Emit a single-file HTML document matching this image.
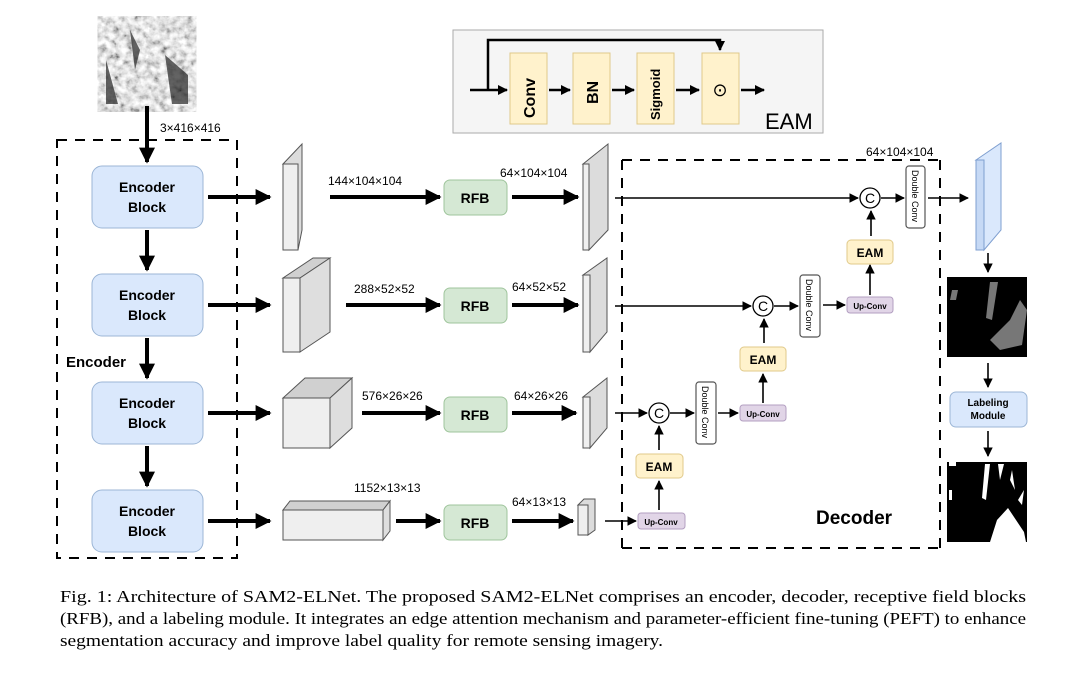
<!DOCTYPE html>
<html><head><meta charset="utf-8"><style>
body{margin:0;background:#fff}
svg{display:block}
text{font-family:"Liberation Sans",sans-serif}
text.serif{font-family:"Liberation Serif",serif}
.b{font-weight:bold}
</style></head><body>
<svg width="1080" height="676" viewBox="0 0 1080 676" xmlns="http://www.w3.org/2000/svg">
<defs>
<marker id="a" viewBox="0 0 10 10" refX="9" refY="5" markerWidth="4" markerHeight="4" orient="auto-start-reverse"><path d="M0,0L10,5L0,10z" fill="#000"/></marker>
<marker id="s" viewBox="0 0 10 10" refX="9" refY="5" markerWidth="6" markerHeight="6" orient="auto"><path d="M0,0L10,5L0,10z" fill="#000"/></marker>
<filter id="n"><feTurbulence type="fractalNoise" baseFrequency="0.15" numOctaves="3" seed="3"/><feColorMatrix type="saturate" values="0"/><feComponentTransfer><feFuncR type="linear" slope="2.2" intercept="-0.55"/><feFuncG type="linear" slope="2.2" intercept="-0.55"/><feFuncB type="linear" slope="2.2" intercept="-0.55"/></feComponentTransfer></filter>
</defs>
<rect width="1080" height="676" fill="#fff"/>

<!-- input image -->
<rect x="106" y="24" width="82" height="80" fill="#888" filter="url(#n)"/>
<path d="M165,55 L188,75 L188,104 L172,104 Z M106,60 L118,104 L106,104Z M130,30 L140,50 L135,70Z" fill="#222" opacity="0.7"/>
<line x1="147" y1="106" x2="147" y2="162" stroke="#000" stroke-width="4" marker-end="url(#a)"/>
<text x="160" y="132" font-size="12">3×416×416</text>

<!-- Encoder dashed box -->
<rect x="57" y="140" width="180" height="418" fill="none" stroke="#000" stroke-width="2" stroke-dasharray="10,8"/>
<text x="66" y="367" font-size="15" class="b">Encoder</text>

<g font-size="14" class="b" text-anchor="middle">
<rect x="92" y="166" width="111" height="62" rx="10" fill="#dae8fc" stroke="#9cb6d6"/>
<text x="147" y="192">Encoder</text><text x="147" y="212">Block</text>
<rect x="92" y="274" width="111" height="62" rx="10" fill="#dae8fc" stroke="#9cb6d6"/>
<text x="147" y="300">Encoder</text><text x="147" y="320">Block</text>
<rect x="92" y="382" width="111" height="62" rx="10" fill="#dae8fc" stroke="#9cb6d6"/>
<text x="147" y="408">Encoder</text><text x="147" y="428">Block</text>
<rect x="92" y="490" width="111" height="62" rx="10" fill="#dae8fc" stroke="#9cb6d6"/>
<text x="147" y="516">Encoder</text><text x="147" y="536">Block</text>
</g>
<g stroke="#000" stroke-width="4" marker-end="url(#a)">
<line x1="147" y1="230" x2="147" y2="270"/>
<line x1="147" y1="338" x2="147" y2="378"/>
<line x1="147" y1="446" x2="147" y2="486"/>
<line x1="208" y1="197" x2="270" y2="197"/>
<line x1="208" y1="305" x2="270" y2="305"/>
<line x1="208" y1="413" x2="270" y2="413"/>
<line x1="208" y1="521" x2="270" y2="521"/>
<line x1="330" y1="197" x2="440" y2="197"/>
<line x1="346" y1="305" x2="440" y2="305"/>
<line x1="362" y1="413" x2="440" y2="413"/>
<line x1="396" y1="521" x2="440" y2="521"/>
<line x1="512" y1="197" x2="578" y2="197"/>
<line x1="512" y1="305" x2="578" y2="305"/>
<line x1="512" y1="413" x2="576" y2="413"/>
<line x1="512" y1="521" x2="573" y2="521"/>
</g>

<!-- cuboids -->
<g stroke="#555" stroke-width="1">
<path d="M283,164 L298,164 L298,250 L283,250Z" fill="#efefef"/><path d="M283,164 L302,144 L302,230 L298,250 L298,164Z" fill="#dcdcdc"/>
<path d="M283,278 L300,278 L300,352 L283,352Z" fill="#efefef"/><path d="M283,278 L300,278 L330,258 L313,258Z" fill="#d0d0d0"/><path d="M300,278 L330,258 L330,332 L300,352Z" fill="#dedede"/>
<path d="M283,398 L330,398 L330,448 L283,448Z" fill="#efefef"/><path d="M283,398 L330,398 L352,378 L305,378Z" fill="#d0d0d0"/><path d="M330,398 L352,378 L352,428 L330,448Z" fill="#dedede"/>
<path d="M283,510 L383,510 L383,540 L283,540Z" fill="#efefef"/><path d="M283,510 L383,510 L390,501 L290,501Z" fill="#d0d0d0"/><path d="M383,510 L390,501 L390,531 L383,540Z" fill="#dedede"/>
<path d="M583,164 L589,164 L589,250 L583,250Z" fill="#efefef"/><path d="M583,164 L608,144 L608,230 L589,250 L589,164Z" fill="#dcdcdc"/>
<path d="M583,275 L590,275 L590,352 L583,352Z" fill="#efefef"/><path d="M583,275 L607,258 L607,332 L590,352 L590,275Z" fill="#dcdcdc"/>
<path d="M583,397 L590,397 L590,448 L583,448Z" fill="#efefef"/><path d="M583,397 L607,378 L607,428 L590,448 L590,397Z" fill="#dcdcdc"/>
<path d="M578,505 L588,505 L588,535 L578,535Z" fill="#efefef"/><path d="M578,505 L584,499 L595,499 L595,530 L588,535 L588,505Z" fill="#dcdcdc"/>
</g>
<g font-size="12">
<text x="328" y="185">144×104×104</text>
<text x="354" y="293">288×52×52</text>
<text x="362" y="400">576×26×26</text>
<text x="354" y="492">1152×13×13</text>
<text x="500" y="177">64×104×104</text>
<text x="512" y="291">64×52×52</text>
<text x="514" y="400">64×26×26</text>
<text x="512" y="506">64×13×13</text>
<text x="866" y="156">64×104×104</text>
</g>
<g font-size="14" class="b" text-anchor="middle">
<rect x="444" y="180" width="63" height="35" rx="6" fill="#d5e8d4" stroke="#9fc59c"/><text x="475" y="203">RFB</text>
<rect x="444" y="288" width="63" height="35" rx="6" fill="#d5e8d4" stroke="#9fc59c"/><text x="475" y="311">RFB</text>
<rect x="444" y="397" width="63" height="35" rx="6" fill="#d5e8d4" stroke="#9fc59c"/><text x="475" y="420">RFB</text>
<rect x="444" y="505" width="63" height="35" rx="6" fill="#d5e8d4" stroke="#9fc59c"/><text x="475" y="528">RFB</text>
</g>

<!-- EAM top box -->
<rect x="453" y="30" width="370" height="103" fill="#f5f5f5" stroke="#aaa"/>
<g fill="#fff2cc" stroke="#e0c98a">
<rect x="510" y="53" width="37" height="71"/><rect x="573" y="53" width="37" height="71"/>
<rect x="637" y="53" width="37" height="71"/><rect x="702" y="53" width="37" height="71"/>
</g>
<g stroke="#000" stroke-width="2.5" fill="none">
<line x1="470" y1="90" x2="507" y2="90" marker-end="url(#a)"/>
<line x1="549" y1="90" x2="570" y2="90" marker-end="url(#a)"/>
<line x1="612" y1="90" x2="634" y2="90" marker-end="url(#a)"/>
<line x1="676" y1="90" x2="699" y2="90" marker-end="url(#a)"/>
<line x1="741" y1="90" x2="764" y2="90" marker-end="url(#a)"/>
<polyline points="488,90 488,40 720,40 720,50" marker-end="url(#a)"/>
</g>
<g class="b" font-size="16">
<text transform="translate(535,118) rotate(-90)">Conv</text>
<text transform="translate(598,104) rotate(-90)">BN</text>
<text transform="translate(660,120) rotate(-90)" font-size="13">Sigmoid</text>
</g>
<text x="720" y="96" font-size="18" text-anchor="middle">⊙</text>
<text x="765" y="129" font-size="22">EAM</text>

<!-- Decoder -->
<path d="M622,160 L940,160 M622,548 L940,548 M622,160 L622,548 M940,160 L940,548" stroke="#000" stroke-width="2" stroke-dasharray="10,8" fill="none"/>
<text x="816" y="524" font-size="19" class="b">Decoder</text>

<g stroke="#000" stroke-width="1.6" fill="none" marker-end="url(#s)">
<line x1="615" y1="198" x2="858" y2="198"/>
<line x1="881" y1="198" x2="904" y2="198"/>
<line x1="928" y1="198" x2="968" y2="198"/>
<line x1="871" y1="236" x2="871" y2="211"/>
<line x1="870" y1="295" x2="870" y2="265"/>
<line x1="615" y1="306" x2="751" y2="306"/>
<line x1="774" y1="306" x2="798" y2="306"/>
<line x1="823" y1="305" x2="845" y2="305"/>
<line x1="764" y1="343" x2="764" y2="319"/>
<line x1="763" y1="403" x2="763" y2="374"/>
<line x1="615" y1="413" x2="647" y2="413"/>
<line x1="670" y1="413" x2="694" y2="413"/>
<line x1="718" y1="413" x2="738" y2="413"/>
<line x1="659" y1="450" x2="659" y2="426"/>
<line x1="659" y1="510" x2="659" y2="481"/>
<line x1="605" y1="521" x2="636" y2="521"/>
</g>
<g stroke="#000" stroke-width="1.3" fill="#fff">
<circle cx="870" cy="198" r="10"/><circle cx="763" cy="306" r="10"/><circle cx="659" cy="413" r="10"/>
</g>
<g font-size="14" text-anchor="middle">
<text x="870" y="203">C</text><text x="763" y="311">C</text><text x="659" y="418">C</text>
</g>
<g fill="#fff" stroke="#555" stroke-width="1.2">
<rect x="906" y="166" width="19" height="62" rx="3"/><rect x="800" y="275" width="20" height="62" rx="3"/><rect x="696" y="382" width="20" height="62" rx="3"/>
</g>
<g font-size="9">
<text transform="translate(912,170) rotate(90)">Double Conv</text>
<text transform="translate(806,279) rotate(90)">Double Conv</text>
<text transform="translate(702,386) rotate(90)">Double Conv</text>
</g>
<g class="b" text-anchor="middle">
<rect x="847" y="240" width="46" height="24" rx="4" fill="#fff2cc" stroke="#e0c98a"/><text x="870" y="257" font-size="12">EAM</text>
<rect x="740" y="347" width="46" height="24" rx="4" fill="#fff2cc" stroke="#e0c98a"/><text x="763" y="364" font-size="12">EAM</text>
<rect x="636" y="454" width="47" height="24" rx="4" fill="#fff2cc" stroke="#e0c98a"/><text x="659" y="471" font-size="12">EAM</text>
<rect x="847" y="297" width="46" height="16" rx="3" fill="#e1d5e7" stroke="#b39fc1"/><text x="870" y="309" font-size="8">Up-Conv</text>
<rect x="740" y="405" width="46" height="16" rx="3" fill="#e1d5e7" stroke="#b39fc1"/><text x="763" y="417" font-size="8">Up-Conv</text>
<rect x="638" y="513" width="47" height="16" rx="3" fill="#e1d5e7" stroke="#b39fc1"/><text x="661" y="525" font-size="8">Up-Conv</text>
</g>

<!-- right column -->
<path d="M976,160 L984,160 L984,250 L976,250Z" fill="#c6d9f5" stroke="#7f9fd0"/>
<path d="M976,160 L1001,143 L1001,230 L984,250 L984,160Z" fill="#dae8fc" stroke="#7f9fd0"/>
<g stroke="#000" stroke-width="1.6" marker-end="url(#s)">
<line x1="988" y1="253" x2="988" y2="272"/>
<line x1="988" y1="363" x2="988" y2="387"/>
<line x1="988" y1="431" x2="988" y2="456"/>
</g>
<rect x="947" y="277" width="80" height="80" fill="#000"/>
<path d="M990,282 L998,282 L992,320 L986,318Z M1010,320 L1020,300 L1027,310 L1022,345 L1000,350 L990,340 Z M952,290 L958,290 L956,300 L950,300Z" fill="#777"/>
<rect x="950" y="392" width="77" height="35" rx="6" fill="#dae8fc" stroke="#9cb6d6"/>
<g class="b" font-size="10" text-anchor="middle"><text x="988" y="406">Labeling</text><text x="988" y="419">Module</text></g>
<rect x="947" y="462" width="80" height="80" fill="#000"/>
<path d="M985,464 L990,464 L986,500 L982,498Z M998,464 L1004,464 L1000,480Z M1010,480 L1012,470 L1015,490Z M990,542 L997,520 L1008,508 L1016,520 L1024,532 L1026,542Z M1018,500 L1024,490 L1022,505Z M949,462 L956,462 L956,466 L949,466Z M949,490 L952,490 L952,500 L949,500Z" fill="#fff"/>

<!-- caption -->
<g font-size="17">
<text class="serif" x="60" y="602" textLength="966" lengthAdjust="spacingAndGlyphs">Fig. 1: Architecture of SAM2-ELNet. The proposed SAM2-ELNet comprises an encoder, decoder, receptive field blocks</text>
<text class="serif" x="60" y="624" textLength="966" lengthAdjust="spacingAndGlyphs">(RFB), and a labeling module. It integrates an edge attention mechanism and parameter-efficient fine-tuning (PEFT) to enhance</text>
<text class="serif" x="60" y="646" textLength="603" lengthAdjust="spacingAndGlyphs">segmentation accuracy and improve label quality for remote sensing imagery.</text>
</g>
</svg>
</body></html>
